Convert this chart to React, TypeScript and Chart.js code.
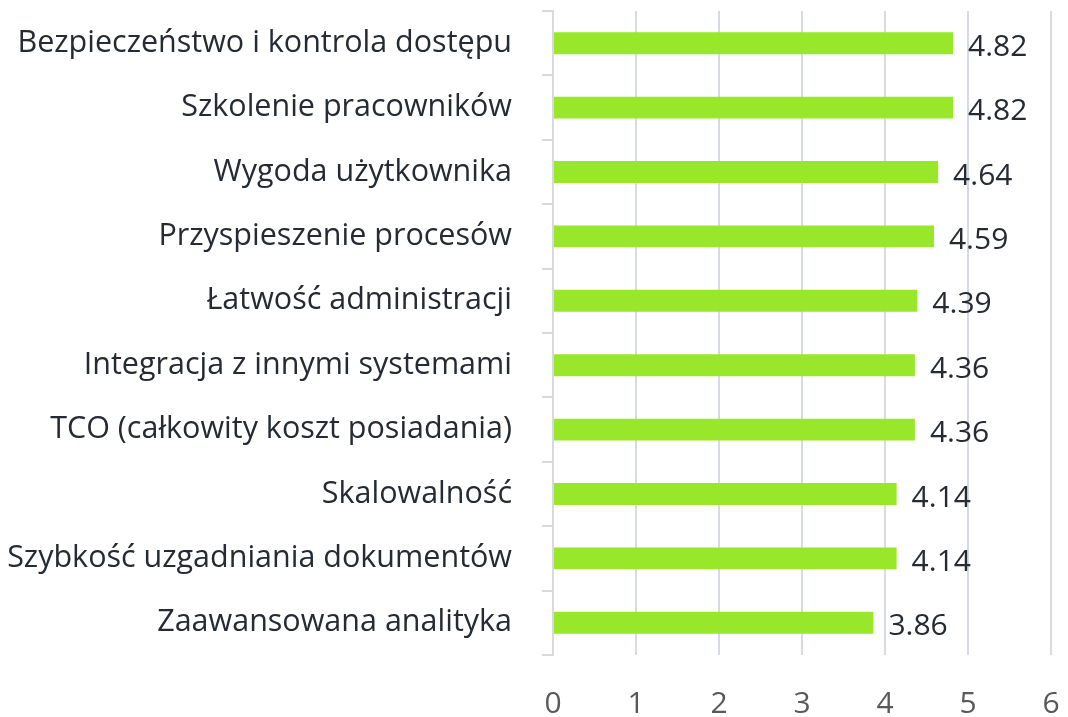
import React, { useEffect, useRef } from "react";
import { Chart, registerables } from "chart.js";

Chart.register(...registerables);

const categories: string[] = [
  "Bezpieczeństwo i kontrola dostępu",
  "Szkolenie pracowników",
  "Wygoda użytkownika",
  "Przyspieszenie procesów",
  "Łatwość administracji",
  "Integracja z innymi systemami",
  "TCO (całkowity koszt posiadania)",
  "Skalowalność",
  "Szybkość uzgadniania dokumentów",
  "Zaawansowana analityka",
];

const values: number[] = [4.82, 4.82, 4.64, 4.59, 4.39, 4.36, 4.36, 4.14, 4.14, 3.86];

const xTicks: number[] = [0, 1, 2, 3, 4, 5, 6];

const FONT = "'Open Sans', 'Noto Sans', sans-serif";

const valueLabels = {
  id: "valueLabels",
  afterDatasetsDraw(chart: any) {
    const ctx = chart.ctx;
    const meta = chart.getDatasetMeta(0);
    ctx.save();
    ctx.font = `30px ${FONT}`;
    ctx.fillStyle = "#262b33";
    ctx.textAlign = "left";
    ctx.textBaseline = "middle";
    meta.data.forEach((bar: any, i: number) => {
      ctx.fillText(values[i].toFixed(2), bar.x + 15, bar.y + 4);
    });
    ctx.restore();
  },
};

export default function App() {
  const ref = useRef<HTMLCanvasElement>(null);
  useEffect(() => {
    document.body.style.margin = "0";
    const chart = new Chart(ref.current!, {
      type: "bar",
      data: {
        labels: categories,
        datasets: [
          {
            data: values,
            backgroundColor: "#98e72b",
            barPercentage: 0.34,
            categoryPercentage: 1,
          },
        ],
      },
      options: {
        indexAxis: "y",
        animation: false,
        responsive: false,
        maintainAspectRatio: false,
        layout: { padding: { left: 0, top: 11, right: 17, bottom: 0 } },
        plugins: { legend: { display: false }, tooltip: { enabled: false } },
        scales: {
          x: {
            min: 0,
            max: 6,
            afterBuildTicks: (s: any) => {
              s.ticks = xTicks.map((v) => ({ value: v }));
            },
            grid: { color: "#d5dae3", lineWidth: 2, drawTicks: false },
            border: { display: false },
            ticks: {
              color: "#595959",
              font: { family: FONT, size: 30 },
              padding: 31,
            },
            afterFit: (s: any) => {
              s.height = 62;
              s.paddingLeft = 0;
              s.paddingRight = 0;
            },
          },
          y: {
            grid: {
              color: "#d9d9d9",
              lineWidth: 2,
              drawOnChartArea: false,
              drawTicks: true,
              tickLength: 11,
              offset: true,
            },
            border: { display: true, color: "#d9d9d9", width: 2 },
            ticks: {
              color: "#262b33",
              font: { family: FONT, size: 30.5 },
              padding: 30,
            },
            afterFit: (s: any) => {
              s.width = 553;
              s.paddingTop = 0;
              s.paddingBottom = 0;
            },
          },
        },
      },
      plugins: [valueLabels],
    });
    return () => chart.destroy();
  }, []);
  return (
    <div style={{ position: "fixed", left: 0, top: 0, width: 1068, height: 717, background: "#fff" }}>
      <canvas ref={ref} width={1068} height={717} style={{ width: 1068, height: 717 }} />
    </div>
  );
}
